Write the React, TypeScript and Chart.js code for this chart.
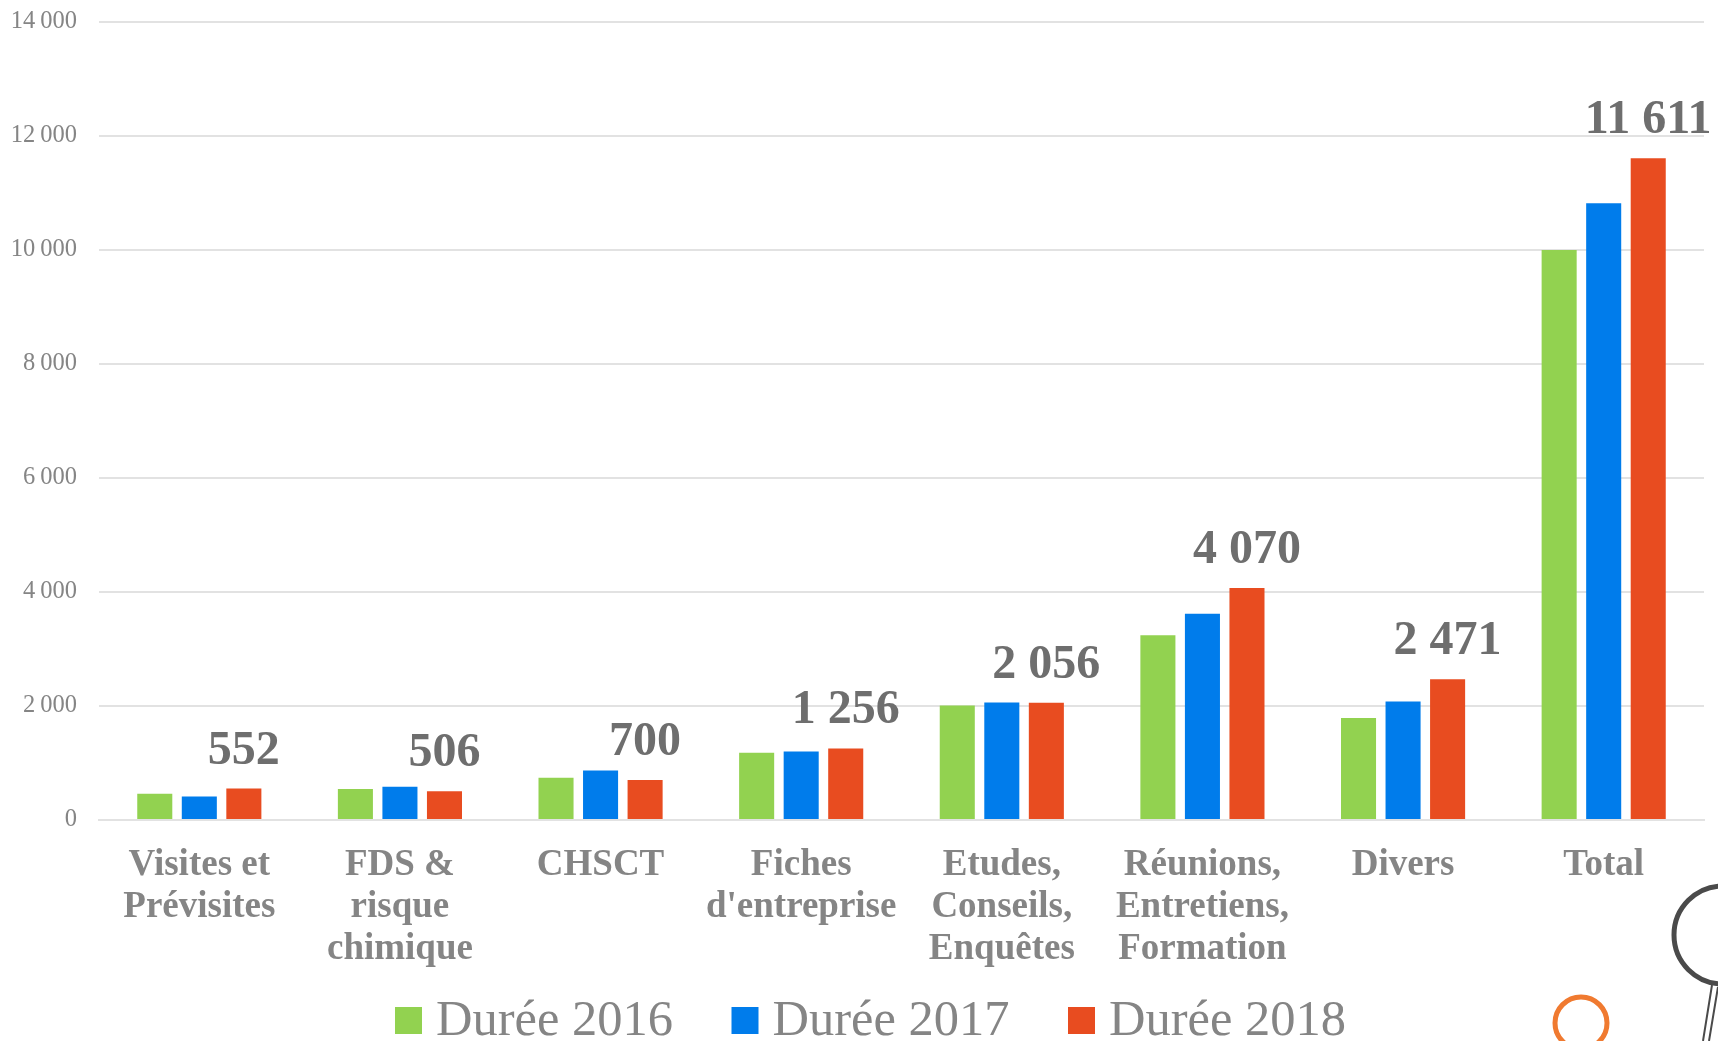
import React, { useEffect, useRef } from "react";
import { Chart, registerables } from "chart.js";

Chart.register(...registerables);

const categories = [
  ["Visites et", "Prévisites"],
  ["FDS &", "risque", "chimique"],
  ["CHSCT"],
  ["Fiches", "d'entreprise"],
  ["Etudes,", "Conseils,", "Enquêtes"],
  ["Réunions,", "Entretiens,", "Formation"],
  ["Divers"],
  ["Total"],
];
const duree2016 = [460, 542, 740, 1180, 2010, 3240, 1790, 10000];
const duree2017 = [414, 583, 870, 1200, 2060, 3620, 2080, 10820];
const duree2018 = [552, 506, 700, 1256, 2056, 4070, 2471, 11611];
const seriesNames = ["Durée 2016", "Durée 2017", "Durée 2018"];
const colors = ["#92D250", "#007CEB", "#E84C20"];

const FONT = "'Liberation Serif', serif";
const fmtThin = (v: number) => String(v).replace(/\B(?=(\d{3})+$)/g, "\u2009");
const fmtWide = (v: number) => String(v).replace(/\B(?=(\d{3})+$)/g, " ");

const plotTopPlugin = {
  id: "plotTop",
  afterLayout(chart: any) {
    const y = chart.scales.y;
    const area = chart.chartArea;
    y.top = 22;
    y.height = y.bottom - y.top;
    area.top = 22;
    area.height = area.bottom - area.top;
    y.configure();
  },
};

const labelPlugin = {
  id: "lastSeriesLabels",
  afterDatasetsDraw(chart: any) {
    const meta = chart.getDatasetMeta(2);
    const ctx = chart.ctx;
    ctx.save();
    ctx.font = `bold 48px ${FONT}`;
    ctx.fillStyle = "#6E6E6E";
    ctx.textAlign = "center";
    ctx.textBaseline = "alphabetic";
    meta.data.forEach((bar: any, i: number) => {
      ctx.fillText(fmtWide(duree2018[i]), bar.x, bar.y - 25);
    });
    ctx.restore();
  },
};

const legendPlugin = {
  id: "bottomLegend",
  afterDraw(chart: any) {
    const ctx = chart.ctx;
    ctx.save();
    ctx.font = `50.5px ${FONT}`;
    ctx.textBaseline = "alphabetic";
    ctx.textAlign = "left";
    chart.data.datasets.forEach((ds: any, i: number) => {
      const x = 395 + i * 336.5;
      ctx.fillStyle = ds.backgroundColor;
      ctx.fillRect(x, 1007, 27, 27);
      ctx.fillStyle = "#858585";
      ctx.fillText(ds.label, x + 41, 1035);
    });
    ctx.restore();
  },
};

export default function App() {
  const ref = useRef<HTMLCanvasElement>(null);
  useEffect(() => {
    const chart = new Chart(ref.current as HTMLCanvasElement, {
      type: "bar",
      data: {
        labels: categories as any,
        datasets: [duree2016, duree2017, duree2018].map((d, i) => ({
          label: seriesNames[i],
          data: d,
          backgroundColor: colors[i],
          categoryPercentage: 0.666,
          barPercentage: 0.787,
        })),
      },
      options: {
        responsive: false,
        animation: false,
        layout: { autoPadding: false, padding: { top: 22, right: 14, left: 0, bottom: 0 } },
        plugins: {
          tooltip: { enabled: false },
          title: { display: false },
          legend: { display: false },
        },
        scales: {
          x: {
            grid: { display: false, drawTicks: false },
            border: { color: "#E2E2E2", width: 2 },
            ticks: {
              color: "#858585",
              padding: 25,
              maxRotation: 0,
              autoSkip: false,
              font: { family: FONT, size: 37, weight: "bold", lineHeight: 1.125 },
            },
            afterFit(a: any) {
              a.height = 221;
            },
          },
          y: {
            min: 0,
            max: 14000,
            grid: { color: "#E2E2E2", lineWidth: 2, drawTicks: false },
            border: { display: false },
            ticks: {
              stepSize: 2000,
              color: "#858585",
              padding: 22,
              font: { family: FONT, size: 24.5 },
              callback: (v: any) => fmtThin(Number(v)),
            },
            afterFit(a: any) {
              a.width = 99;
            },
          },
        },
      },
      plugins: [plotTopPlugin, labelPlugin, legendPlugin],
    } as any);
    return () => chart.destroy();
  }, []);
  return (
    <div style={{ position: "fixed", left: 0, top: 0, width: 1718, height: 1041, overflow: "hidden", background: "#fff" }}>
      <canvas ref={ref} width={1718} height={1041} style={{ display: "block" }} />
      <svg width={1718} height={1041} style={{ position: "absolute", left: 0, top: 0 }}>
        <circle cx={1723} cy={935} r={49} fill="none" stroke="#4A4A4A" strokeWidth={5} />
        <path d="M1712 985 L1703 1041 M1718 987 L1709 1041" stroke="#4A4A4A" strokeWidth={2} fill="none" />
        <circle cx={1581} cy={1023} r={26} fill="none" stroke="#F07A30" strokeWidth={5} />
      </svg>
    </div>
  );
}
